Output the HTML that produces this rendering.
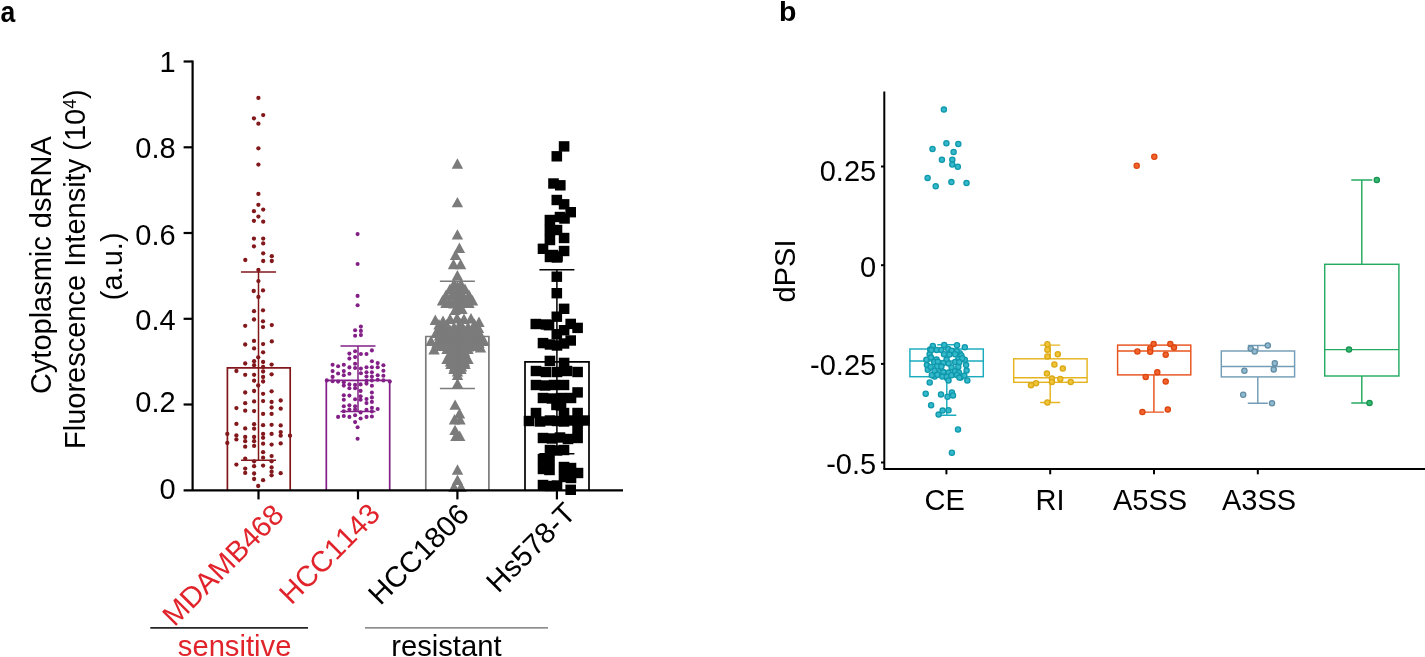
<!DOCTYPE html>
<html lang="en"><head><meta charset="utf-8"><title>Figure</title>
<style>html,body{margin:0;padding:0;background:#fff;}body{width:1425px;height:657px;overflow:hidden;font-family:"Liberation Sans", sans-serif;}svg{will-change:transform;}svg text{font-family:"Liberation Sans",sans-serif;font-kerning:none;}</style></head>
<body>
<svg width="1425" height="657" viewBox="0 0 1425 657" font-family='"Liberation Sans", sans-serif' style="display:block">
<rect x="0" y="0" width="1425" height="657" fill="#ffffff"/>
<text transform="translate(0.6 21.6) scale(0.9 1)" font-size="29.5" font-weight="bold" fill="#000">a</text>
<text x="779" y="21.4" font-size="28.5" font-weight="bold" fill="#000">b</text>
<g fill="none">
<path d="M227.4 490.3V367.9H290.2V490.3" stroke="#82181b" stroke-width="1.7"/>
<path d="M326.3 490.3V380.4H389.7V490.3" stroke="#832087" stroke-width="1.7"/>
<path d="M425.8 490.3V336.5H488.9V490.3" stroke="#7b7b7b" stroke-width="1.7"/>
<path d="M525.0 490.3V361.8H589.0V490.3" stroke="#000000" stroke-width="1.7"/>
</g>
<g fill="#82181b">
<circle cx="258.4" cy="97.9" r="2.15"/>
<circle cx="263.2" cy="115.1" r="2.15"/>
<circle cx="253.9" cy="118.3" r="2.15"/>
<circle cx="258.4" cy="123.7" r="2.15"/>
<circle cx="258.4" cy="148.3" r="2.15"/>
<circle cx="258.4" cy="164.6" r="2.15"/>
<circle cx="258.4" cy="193.9" r="2.15"/>
<circle cx="258.4" cy="204.8" r="2.15"/>
<circle cx="263.2" cy="209.6" r="2.15"/>
<circle cx="253.9" cy="211.2" r="2.15"/>
<circle cx="258.4" cy="216.6" r="2.15"/>
<circle cx="253.9" cy="220.8" r="2.15"/>
<circle cx="263.2" cy="221.7" r="2.15"/>
<circle cx="253.9" cy="238.6" r="2.15"/>
<circle cx="263.2" cy="238.6" r="2.15"/>
<circle cx="263.2" cy="243.4" r="2.15"/>
<circle cx="253.9" cy="246.3" r="2.15"/>
<circle cx="263.2" cy="253.3" r="2.15"/>
<circle cx="271.8" cy="256.2" r="2.15"/>
<circle cx="245.3" cy="260" r="2.15"/>
<circle cx="263.2" cy="261" r="2.15"/>
<circle cx="271.8" cy="261" r="2.15"/>
<circle cx="258.4" cy="269.9" r="2.15"/>
<circle cx="258.4" cy="281.1" r="2.15"/>
<circle cx="253.7" cy="291" r="2.15"/>
<circle cx="263" cy="290.4" r="2.15"/>
<circle cx="258.4" cy="296.9" r="2.15"/>
<circle cx="254" cy="311.2" r="2.15"/>
<circle cx="263" cy="310.3" r="2.15"/>
<circle cx="254" cy="319.5" r="2.15"/>
<circle cx="263" cy="321.3" r="2.15"/>
<circle cx="245.2" cy="325.8" r="2.15"/>
<circle cx="271.8" cy="325.1" r="2.15"/>
<circle cx="263" cy="327.1" r="2.15"/>
<circle cx="254" cy="340.9" r="2.15"/>
<circle cx="271.8" cy="341.4" r="2.15"/>
<circle cx="245.2" cy="344.5" r="2.15"/>
<circle cx="263.1" cy="344.1" r="2.15"/>
<circle cx="254.1" cy="348.4" r="2.15"/>
<circle cx="263.1" cy="352.3" r="2.15"/>
<circle cx="258.2" cy="357.3" r="2.15"/>
<circle cx="254.1" cy="361.2" r="2.15"/>
<circle cx="263.1" cy="362" r="2.15"/>
<circle cx="245.2" cy="363.5" r="2.15"/>
<circle cx="271.6" cy="364.6" r="2.15"/>
<circle cx="254.1" cy="365.2" r="2.15"/>
<circle cx="263.1" cy="366.9" r="2.15"/>
<circle cx="236.4" cy="371" r="2.15"/>
<circle cx="263.1" cy="371.5" r="2.15"/>
<circle cx="245.2" cy="374.8" r="2.15"/>
<circle cx="254.1" cy="374.8" r="2.15"/>
<circle cx="271.6" cy="374.3" r="2.15"/>
<circle cx="263.1" cy="377" r="2.15"/>
<circle cx="254.1" cy="380.7" r="2.15"/>
<circle cx="263.1" cy="381.5" r="2.15"/>
<circle cx="258.2" cy="385.5" r="2.15"/>
<circle cx="254.1" cy="391" r="2.15"/>
<circle cx="271.6" cy="391.3" r="2.15"/>
<circle cx="245.2" cy="392.5" r="2.15"/>
<circle cx="263.1" cy="393.8" r="2.15"/>
<circle cx="280.7" cy="400.5" r="2.15"/>
<circle cx="254.1" cy="401.4" r="2.15"/>
<circle cx="263.1" cy="401.1" r="2.15"/>
<circle cx="271.6" cy="402" r="2.15"/>
<circle cx="245.2" cy="403.2" r="2.15"/>
<circle cx="236.4" cy="408.1" r="2.15"/>
<circle cx="271.6" cy="407.5" r="2.15"/>
<circle cx="280.7" cy="408.7" r="2.15"/>
<circle cx="245.2" cy="410.7" r="2.15"/>
<circle cx="254.1" cy="411.1" r="2.15"/>
<circle cx="263.1" cy="413.9" r="2.15"/>
<circle cx="271.6" cy="413.9" r="2.15"/>
<circle cx="236.4" cy="423.9" r="2.15"/>
<circle cx="254.1" cy="424.2" r="2.15"/>
<circle cx="263.1" cy="425.2" r="2.15"/>
<circle cx="271.6" cy="424.8" r="2.15"/>
<circle cx="280.7" cy="425.4" r="2.15"/>
<circle cx="245.2" cy="428.4" r="2.15"/>
<circle cx="254.1" cy="428.7" r="2.15"/>
<circle cx="280.7" cy="432.1" r="2.15"/>
<circle cx="227.3" cy="433.9" r="2.15"/>
<circle cx="263.1" cy="433.9" r="2.15"/>
<circle cx="271.6" cy="433.9" r="2.15"/>
<circle cx="236.4" cy="435.4" r="2.15"/>
<circle cx="290" cy="435.7" r="2.15"/>
<circle cx="280.7" cy="435.7" r="2.15"/>
<circle cx="245.2" cy="437" r="2.15"/>
<circle cx="254.1" cy="437" r="2.15"/>
<circle cx="263.1" cy="437.8" r="2.15"/>
<circle cx="236.4" cy="439.4" r="2.15"/>
<circle cx="245.2" cy="441.2" r="2.15"/>
<circle cx="254.1" cy="441.2" r="2.15"/>
<circle cx="227.3" cy="443" r="2.15"/>
<circle cx="263.1" cy="443.7" r="2.15"/>
<circle cx="280.7" cy="443.4" r="2.15"/>
<circle cx="271.6" cy="444.6" r="2.15"/>
<circle cx="245.2" cy="446.7" r="2.15"/>
<circle cx="254.1" cy="445.9" r="2.15"/>
<circle cx="263.1" cy="452.2" r="2.15"/>
<circle cx="271.6" cy="456.1" r="2.15"/>
<circle cx="263.1" cy="457.7" r="2.15"/>
<circle cx="245.2" cy="458.6" r="2.15"/>
<circle cx="254.1" cy="461.3" r="2.15"/>
<circle cx="271.6" cy="461.3" r="2.15"/>
<circle cx="236.4" cy="464.6" r="2.15"/>
<circle cx="254.1" cy="466.2" r="2.15"/>
<circle cx="263.1" cy="465.6" r="2.15"/>
<circle cx="271.6" cy="467.4" r="2.15"/>
<circle cx="245.2" cy="468.6" r="2.15"/>
<circle cx="271.6" cy="471.7" r="2.15"/>
<circle cx="245.2" cy="472.9" r="2.15"/>
<circle cx="254.1" cy="473.5" r="2.15"/>
<circle cx="280.7" cy="473.2" r="2.15"/>
<circle cx="271.6" cy="475.3" r="2.15"/>
<circle cx="254.1" cy="479" r="2.15"/>
<circle cx="263.1" cy="480.2" r="2.15"/>
<circle cx="258.2" cy="486" r="2.15"/>
</g>
<g fill="#832087">
<circle cx="357.6" cy="234.1" r="2.05"/>
<circle cx="357.6" cy="264" r="2.05"/>
<circle cx="357.6" cy="295.9" r="2.05"/>
<circle cx="357.6" cy="305.2" r="2.05"/>
<circle cx="360.9" cy="326.6" r="2.05"/>
<circle cx="355.1" cy="330.3" r="2.05"/>
<circle cx="360.9" cy="330.9" r="2.05"/>
<circle cx="355.1" cy="335.7" r="2.05"/>
<circle cx="360.9" cy="335.1" r="2.05"/>
<circle cx="371.9" cy="350.4" r="2.05"/>
<circle cx="355.1" cy="351.2" r="2.05"/>
<circle cx="349.4" cy="353.6" r="2.05"/>
<circle cx="360.9" cy="354" r="2.05"/>
<circle cx="366.5" cy="354" r="2.05"/>
<circle cx="355.1" cy="357.1" r="2.05"/>
<circle cx="349.4" cy="358.6" r="2.05"/>
<circle cx="371.9" cy="361.3" r="2.05"/>
<circle cx="377.7" cy="363.1" r="2.05"/>
<circle cx="355.1" cy="363.8" r="2.05"/>
<circle cx="332.6" cy="364.7" r="2.05"/>
<circle cx="343.8" cy="364.7" r="2.05"/>
<circle cx="383.4" cy="365.3" r="2.05"/>
<circle cx="338.1" cy="366.2" r="2.05"/>
<circle cx="349.4" cy="367.4" r="2.05"/>
<circle cx="366.5" cy="367.2" r="2.05"/>
<circle cx="371.9" cy="367.2" r="2.05"/>
<circle cx="377.7" cy="367.2" r="2.05"/>
<circle cx="355.1" cy="368" r="2.05"/>
<circle cx="360.9" cy="368.6" r="2.05"/>
<circle cx="332.6" cy="371.1" r="2.05"/>
<circle cx="343.8" cy="371.1" r="2.05"/>
<circle cx="383.4" cy="370.7" r="2.05"/>
<circle cx="366.5" cy="372.3" r="2.05"/>
<circle cx="371.9" cy="372.3" r="2.05"/>
<circle cx="338.1" cy="373.5" r="2.05"/>
<circle cx="349.4" cy="373.7" r="2.05"/>
<circle cx="360.9" cy="373.2" r="2.05"/>
<circle cx="343.8" cy="375.3" r="2.05"/>
<circle cx="377.7" cy="375.3" r="2.05"/>
<circle cx="383.4" cy="375.7" r="2.05"/>
<circle cx="332.6" cy="376.9" r="2.05"/>
<circle cx="366.5" cy="376.5" r="2.05"/>
<circle cx="371.9" cy="376.5" r="2.05"/>
<circle cx="326.8" cy="380.4" r="2.05"/>
<circle cx="389.8" cy="381.6" r="2.05"/>
<circle cx="332.6" cy="381.2" r="2.05"/>
<circle cx="338.1" cy="381.6" r="2.05"/>
<circle cx="343.8" cy="382.2" r="2.05"/>
<circle cx="366.5" cy="380.7" r="2.05"/>
<circle cx="371.9" cy="380.4" r="2.05"/>
<circle cx="377.7" cy="379.7" r="2.05"/>
<circle cx="383.4" cy="380.4" r="2.05"/>
<circle cx="349.4" cy="384.4" r="2.05"/>
<circle cx="355.1" cy="384.9" r="2.05"/>
<circle cx="360.6" cy="384.4" r="2.05"/>
<circle cx="366.5" cy="383.6" r="2.05"/>
<circle cx="343.8" cy="385.6" r="2.05"/>
<circle cx="371.9" cy="385.8" r="2.05"/>
<circle cx="349.4" cy="388.3" r="2.05"/>
<circle cx="355.1" cy="388.3" r="2.05"/>
<circle cx="360.6" cy="390.9" r="2.05"/>
<circle cx="371.9" cy="392.5" r="2.05"/>
<circle cx="343.8" cy="395.3" r="2.05"/>
<circle cx="349.4" cy="395.6" r="2.05"/>
<circle cx="360.6" cy="396.2" r="2.05"/>
<circle cx="371.9" cy="397.4" r="2.05"/>
<circle cx="355.1" cy="399.2" r="2.05"/>
<circle cx="360.6" cy="399.8" r="2.05"/>
<circle cx="366.5" cy="399" r="2.05"/>
<circle cx="343.8" cy="399.8" r="2.05"/>
<circle cx="371.9" cy="401.9" r="2.05"/>
<circle cx="366.5" cy="403.1" r="2.05"/>
<circle cx="349.4" cy="405.3" r="2.05"/>
<circle cx="343.8" cy="406.3" r="2.05"/>
<circle cx="355.1" cy="406.3" r="2.05"/>
<circle cx="371.9" cy="407.7" r="2.05"/>
<circle cx="377.7" cy="409" r="2.05"/>
<circle cx="366.5" cy="409.9" r="2.05"/>
<circle cx="349.4" cy="409.6" r="2.05"/>
<circle cx="355.1" cy="409.6" r="2.05"/>
<circle cx="343.8" cy="411.2" r="2.05"/>
<circle cx="371.9" cy="411.4" r="2.05"/>
<circle cx="360.6" cy="412.4" r="2.05"/>
<circle cx="355.1" cy="415.3" r="2.05"/>
<circle cx="343.8" cy="416" r="2.05"/>
<circle cx="338.1" cy="416.9" r="2.05"/>
<circle cx="349.4" cy="416.9" r="2.05"/>
<circle cx="366.5" cy="416.9" r="2.05"/>
<circle cx="371.9" cy="416.5" r="2.05"/>
<circle cx="360.6" cy="418.5" r="2.05"/>
<circle cx="355.1" cy="422.1" r="2.05"/>
<circle cx="357.6" cy="427.2" r="2.05"/>
<circle cx="357.6" cy="438.8" r="2.05"/>
</g>
<g fill="#7b7b7b">
<path d="M457.4 158.3l5.7 10.4h-11.4z"/>
<path d="M457.4 196.9l5.7 10.4h-11.4z"/>
<path d="M457.4 229.2l5.7 10.4h-11.4z"/>
<path d="M459.4 242.5l5.7 10.4h-11.4z"/>
<path d="M455.5 249.7l5.7 10.4h-11.4z"/>
<path d="M453.5 258.8l5.7 10.4h-11.4z"/>
<path d="M460.6 258.8l5.7 10.4h-11.4z"/>
<path d="M457.4 270.0l5.7 10.4h-11.4z"/>
<path d="M454.0 278.5l5.7 10.4h-11.4z"/>
<path d="M461.0 278.5l5.7 10.4h-11.4z"/>
<path d="M450.0 283.5l5.7 10.4h-11.4z"/>
<path d="M457.5 284.5l5.7 10.4h-11.4z"/>
<path d="M465.0 283.5l5.7 10.4h-11.4z"/>
<path d="M446.0 289.5l5.7 10.4h-11.4z"/>
<path d="M453.0 289.5l5.7 10.4h-11.4z"/>
<path d="M461.0 290.5l5.7 10.4h-11.4z"/>
<path d="M469.0 289.5l5.7 10.4h-11.4z"/>
<path d="M442.5 295.0l5.7 10.4h-11.4z"/>
<path d="M450.0 295.5l5.7 10.4h-11.4z"/>
<path d="M457.5 295.5l5.7 10.4h-11.4z"/>
<path d="M465.0 294.5l5.7 10.4h-11.4z"/>
<path d="M472.5 295.0l5.7 10.4h-11.4z"/>
<path d="M455.0 304.5l5.7 10.4h-11.4z"/>
<path d="M462.0 303.5l5.7 10.4h-11.4z"/>
<path d="M435.3 314.5l5.7 10.4h-11.4z"/>
<path d="M443.0 315.5l5.7 10.4h-11.4z"/>
<path d="M450.0 313.5l5.7 10.4h-11.4z"/>
<path d="M457.0 312.5l5.7 10.4h-11.4z"/>
<path d="M464.0 313.5l5.7 10.4h-11.4z"/>
<path d="M471.0 313.0l5.7 10.4h-11.4z"/>
<path d="M479.0 316.5l5.7 10.4h-11.4z"/>
<path d="M440.0 322.5l5.7 10.4h-11.4z"/>
<path d="M447.0 322.5l5.7 10.4h-11.4z"/>
<path d="M454.0 321.5l5.7 10.4h-11.4z"/>
<path d="M461.0 322.5l5.7 10.4h-11.4z"/>
<path d="M468.0 321.5l5.7 10.4h-11.4z"/>
<path d="M475.0 322.5l5.7 10.4h-11.4z"/>
<path d="M436.0 327.5l5.7 10.4h-11.4z"/>
<path d="M443.0 327.5l5.7 10.4h-11.4z"/>
<path d="M450.0 328.5l5.7 10.4h-11.4z"/>
<path d="M457.5 327.5l5.7 10.4h-11.4z"/>
<path d="M465.0 328.5l5.7 10.4h-11.4z"/>
<path d="M472.0 327.5l5.7 10.4h-11.4z"/>
<path d="M479.0 327.5l5.7 10.4h-11.4z"/>
<path d="M440.0 332.5l5.7 10.4h-11.4z"/>
<path d="M447.0 333.5l5.7 10.4h-11.4z"/>
<path d="M454.0 332.5l5.7 10.4h-11.4z"/>
<path d="M461.0 333.5l5.7 10.4h-11.4z"/>
<path d="M468.0 332.5l5.7 10.4h-11.4z"/>
<path d="M475.0 333.5l5.7 10.4h-11.4z"/>
<path d="M482.0 332.5l5.7 10.4h-11.4z"/>
<path d="M437.0 337.5l5.7 10.4h-11.4z"/>
<path d="M444.0 337.5l5.7 10.4h-11.4z"/>
<path d="M451.0 338.5l5.7 10.4h-11.4z"/>
<path d="M458.0 337.5l5.7 10.4h-11.4z"/>
<path d="M465.0 338.5l5.7 10.4h-11.4z"/>
<path d="M472.0 337.5l5.7 10.4h-11.4z"/>
<path d="M479.0 337.5l5.7 10.4h-11.4z"/>
<path d="M431.0 335.5l5.7 10.4h-11.4z"/>
<path d="M434.0 344.0l5.7 10.4h-11.4z"/>
<path d="M484.0 335.5l5.7 10.4h-11.4z"/>
<path d="M480.5 342.0l5.7 10.4h-11.4z"/>
<path d="M447.0 343.5l5.7 10.4h-11.4z"/>
<path d="M454.0 343.5l5.7 10.4h-11.4z"/>
<path d="M461.0 343.5l5.7 10.4h-11.4z"/>
<path d="M468.0 343.5l5.7 10.4h-11.4z"/>
<path d="M450.0 348.5l5.7 10.4h-11.4z"/>
<path d="M457.5 348.5l5.7 10.4h-11.4z"/>
<path d="M465.0 348.5l5.7 10.4h-11.4z"/>
<path d="M447.0 353.5l5.7 10.4h-11.4z"/>
<path d="M454.0 353.5l5.7 10.4h-11.4z"/>
<path d="M461.0 353.5l5.7 10.4h-11.4z"/>
<path d="M468.0 353.5l5.7 10.4h-11.4z"/>
<path d="M451.0 358.5l5.7 10.4h-11.4z"/>
<path d="M458.0 358.5l5.7 10.4h-11.4z"/>
<path d="M465.0 358.5l5.7 10.4h-11.4z"/>
<path d="M454.0 363.5l5.7 10.4h-11.4z"/>
<path d="M461.0 363.5l5.7 10.4h-11.4z"/>
<path d="M457.5 369.5l5.7 10.4h-11.4z"/>
<path d="M457.5 378.2l5.7 10.4h-11.4z"/>
<path d="M455.1 399.4l5.7 10.4h-11.4z"/>
<path d="M459.5 408.0l5.7 10.4h-11.4z"/>
<path d="M454.5 414.0l5.7 10.4h-11.4z"/>
<path d="M460.0 414.0l5.7 10.4h-11.4z"/>
<path d="M455.0 424.7l5.7 10.4h-11.4z"/>
<path d="M455.9 430.7l5.7 10.4h-11.4z"/>
<path d="M459.7 430.5l5.7 10.4h-11.4z"/>
<path d="M457.5 464.3l5.7 10.4h-11.4z"/>
<path d="M457.5 474.5l5.7 10.4h-11.4z"/>
<path d="M454.0 481.5l5.7 10.4h-11.4z"/>
<path d="M461.0 481.5l5.7 10.4h-11.4z"/>
<path d="M457.5 281.0l5.7 10.4h-11.4z"/>
<path d="M453.5 286.5l5.7 10.4h-11.4z"/>
<path d="M461.5 287.0l5.7 10.4h-11.4z"/>
<path d="M457.5 292.5l5.7 10.4h-11.4z"/>
<path d="M446.0 297.5l5.7 10.4h-11.4z"/>
<path d="M454.0 298.0l5.7 10.4h-11.4z"/>
<path d="M461.5 297.5l5.7 10.4h-11.4z"/>
<path d="M469.0 297.5l5.7 10.4h-11.4z"/>
<path d="M458.5 300.5l5.7 10.4h-11.4z"/>
<path d="M439.0 319.0l5.7 10.4h-11.4z"/>
<path d="M446.5 319.0l5.7 10.4h-11.4z"/>
<path d="M460.5 318.0l5.7 10.4h-11.4z"/>
<path d="M474.5 318.5l5.7 10.4h-11.4z"/>
<path d="M450.5 325.0l5.7 10.4h-11.4z"/>
<path d="M457.5 324.5l5.7 10.4h-11.4z"/>
<path d="M464.5 325.0l5.7 10.4h-11.4z"/>
<path d="M478.5 322.5l5.7 10.4h-11.4z"/>
<path d="M439.5 330.0l5.7 10.4h-11.4z"/>
<path d="M446.5 330.5l5.7 10.4h-11.4z"/>
<path d="M461.0 330.5l5.7 10.4h-11.4z"/>
<path d="M468.5 330.5l5.7 10.4h-11.4z"/>
<path d="M475.5 330.5l5.7 10.4h-11.4z"/>
<path d="M443.5 335.5l5.7 10.4h-11.4z"/>
<path d="M450.5 335.5l5.7 10.4h-11.4z"/>
<path d="M457.5 335.0l5.7 10.4h-11.4z"/>
<path d="M464.5 335.5l5.7 10.4h-11.4z"/>
<path d="M471.5 335.5l5.7 10.4h-11.4z"/>
<path d="M478.5 335.0l5.7 10.4h-11.4z"/>
<path d="M440.5 340.5l5.7 10.4h-11.4z"/>
<path d="M447.5 340.5l5.7 10.4h-11.4z"/>
<path d="M454.5 341.0l5.7 10.4h-11.4z"/>
<path d="M461.5 340.5l5.7 10.4h-11.4z"/>
<path d="M468.5 341.0l5.7 10.4h-11.4z"/>
<path d="M475.5 340.5l5.7 10.4h-11.4z"/>
<path d="M457.5 346.0l5.7 10.4h-11.4z"/>
<path d="M464.5 346.0l5.7 10.4h-11.4z"/>
<path d="M453.5 351.0l5.7 10.4h-11.4z"/>
<path d="M450.5 356.0l5.7 10.4h-11.4z"/>
<path d="M457.5 356.0l5.7 10.4h-11.4z"/>
<path d="M464.5 356.0l5.7 10.4h-11.4z"/>
<path d="M454.5 361.0l5.7 10.4h-11.4z"/>
<path d="M461.5 361.0l5.7 10.4h-11.4z"/>
<path d="M457.5 366.0l5.7 10.4h-11.4z"/>
</g>
<g fill="#000000">
<rect x="558.8" y="141.2" width="10.6" height="10.4"/>
<rect x="551.5" y="151.1" width="10.6" height="10.4"/>
<rect x="548.2" y="178.3" width="10.6" height="10.4"/>
<rect x="555.0" y="180.1" width="10.6" height="10.4"/>
<rect x="551.5" y="194.8" width="10.6" height="10.4"/>
<rect x="558.8" y="199.1" width="10.6" height="10.4"/>
<rect x="565.4" y="207.0" width="10.6" height="10.4"/>
<rect x="554.7" y="211.8" width="10.6" height="10.4"/>
<rect x="559.2" y="213.3" width="10.6" height="10.4"/>
<rect x="544.6" y="214.8" width="10.6" height="10.4"/>
<rect x="544.6" y="224.8" width="10.6" height="10.4"/>
<rect x="544.6" y="234.8" width="10.6" height="10.4"/>
<rect x="551.7" y="224.8" width="10.6" height="10.4"/>
<rect x="558.8" y="232.8" width="10.6" height="10.4"/>
<rect x="537.7" y="243.6" width="10.6" height="10.4"/>
<rect x="558.8" y="245.8" width="10.6" height="10.4"/>
<rect x="547.7" y="249.8" width="10.6" height="10.4"/>
<rect x="552.2" y="251.3" width="10.6" height="10.4"/>
<rect x="544.7" y="251.8" width="10.6" height="10.4"/>
<rect x="551.7" y="252.3" width="10.6" height="10.4"/>
<rect x="551.5" y="271.5" width="10.6" height="10.4"/>
<rect x="551.5" y="288.0" width="10.6" height="10.4"/>
<rect x="558.8" y="303.6" width="10.6" height="10.4"/>
<rect x="551.5" y="311.5" width="10.6" height="10.4"/>
<rect x="530.5" y="318.8" width="10.6" height="10.4"/>
<rect x="540.7" y="319.3" width="10.6" height="10.4"/>
<rect x="543.7" y="320.0" width="10.6" height="10.4"/>
<rect x="565.4" y="318.7" width="10.6" height="10.4"/>
<rect x="572.3" y="322.7" width="10.6" height="10.4"/>
<rect x="558.8" y="325.0" width="10.6" height="10.4"/>
<rect x="551.5" y="329.0" width="10.6" height="10.4"/>
<rect x="565.4" y="335.3" width="10.6" height="10.4"/>
<rect x="537.7" y="337.9" width="10.6" height="10.4"/>
<rect x="544.7" y="339.3" width="10.6" height="10.4"/>
<rect x="551.7" y="340.3" width="10.6" height="10.4"/>
<rect x="558.7" y="338.3" width="10.6" height="10.4"/>
<rect x="544.6" y="355.7" width="10.6" height="10.4"/>
<rect x="558.8" y="357.7" width="10.6" height="10.4"/>
<rect x="530.7" y="365.8" width="10.6" height="10.4"/>
<rect x="540.7" y="366.8" width="10.6" height="10.4"/>
<rect x="551.7" y="366.8" width="10.6" height="10.4"/>
<rect x="561.7" y="365.8" width="10.6" height="10.4"/>
<rect x="572.3" y="366.8" width="10.6" height="10.4"/>
<rect x="530.7" y="379.8" width="10.6" height="10.4"/>
<rect x="539.7" y="380.3" width="10.6" height="10.4"/>
<rect x="548.7" y="379.8" width="10.6" height="10.4"/>
<rect x="558.7" y="379.8" width="10.6" height="10.4"/>
<rect x="572.3" y="387.2" width="10.6" height="10.4"/>
<rect x="537.7" y="392.8" width="10.6" height="10.4"/>
<rect x="546.7" y="393.3" width="10.6" height="10.4"/>
<rect x="555.7" y="392.8" width="10.6" height="10.4"/>
<rect x="565.7" y="392.8" width="10.6" height="10.4"/>
<rect x="551.2" y="399.8" width="10.6" height="10.4"/>
<rect x="555.7" y="400.3" width="10.6" height="10.4"/>
<rect x="530.7" y="407.8" width="10.6" height="10.4"/>
<rect x="558.7" y="407.8" width="10.6" height="10.4"/>
<rect x="572.3" y="407.8" width="10.6" height="10.4"/>
<rect x="523.7" y="415.8" width="10.6" height="10.4"/>
<rect x="534.7" y="416.3" width="10.6" height="10.4"/>
<rect x="544.7" y="415.3" width="10.6" height="10.4"/>
<rect x="551.7" y="415.8" width="10.6" height="10.4"/>
<rect x="558.7" y="416.3" width="10.6" height="10.4"/>
<rect x="565.7" y="415.3" width="10.6" height="10.4"/>
<rect x="572.7" y="415.8" width="10.6" height="10.4"/>
<rect x="579.2" y="415.3" width="10.6" height="10.4"/>
<rect x="572.3" y="422.8" width="10.6" height="10.4"/>
<rect x="537.7" y="432.8" width="10.6" height="10.4"/>
<rect x="546.7" y="433.3" width="10.6" height="10.4"/>
<rect x="554.7" y="432.3" width="10.6" height="10.4"/>
<rect x="562.7" y="433.8" width="10.6" height="10.4"/>
<rect x="572.3" y="432.8" width="10.6" height="10.4"/>
<rect x="544.7" y="444.8" width="10.6" height="10.4"/>
<rect x="551.7" y="445.3" width="10.6" height="10.4"/>
<rect x="558.7" y="444.8" width="10.6" height="10.4"/>
<rect x="537.7" y="453.8" width="10.6" height="10.4"/>
<rect x="544.2" y="454.8" width="10.6" height="10.4"/>
<rect x="537.7" y="463.8" width="10.6" height="10.4"/>
<rect x="544.2" y="464.8" width="10.6" height="10.4"/>
<rect x="558.7" y="461.8" width="10.6" height="10.4"/>
<rect x="565.7" y="462.8" width="10.6" height="10.4"/>
<rect x="558.7" y="471.8" width="10.6" height="10.4"/>
<rect x="565.7" y="472.8" width="10.6" height="10.4"/>
<rect x="572.7" y="467.8" width="10.6" height="10.4"/>
<rect x="537.7" y="479.8" width="10.6" height="10.4"/>
<rect x="544.7" y="480.8" width="10.6" height="10.4"/>
<rect x="551.7" y="480.3" width="10.6" height="10.4"/>
<rect x="565.4" y="484.6" width="10.6" height="10.4"/>
</g>
<g fill="none" stroke-width="1.5">
<path d="M258.5 272.0V460.3M241.0 272.0H276.0M241.0 460.3H276.0" stroke="#82181b"/>
<path d="M358.0 346.0V411.6M340.5 346.0H375.5M340.5 411.6H375.5" stroke="#832087"/>
<path d="M457.4 281.2V388.4M439.9 281.2H474.9M439.9 388.4H474.9" stroke="#7b7b7b"/>
<path d="M556.9 269.8V453.8M539.4 269.8H574.4M539.4 453.8H574.4" stroke="#000000"/>
</g>
<g stroke="#000" stroke-width="2.2" fill="none">
<path d="M192.6 60.4V490.3"/>
<path d="M183.6 490.3H623"/>
<path d="M183.6 404.5H192.6"/>
<path d="M183.6 318.8H192.6"/>
<path d="M183.6 233.0H192.6"/>
<path d="M183.6 147.3H192.6"/>
<path d="M183.6 61.5H192.6"/>
<path d="M258.5 490.3V499.4"/>
<path d="M358.0 490.3V499.4"/>
<path d="M457.4 490.3V499.4"/>
<path d="M556.9 490.3V499.4"/>
</g>
<g font-size="29" fill="#000" text-anchor="end">
<text x="175.7" y="498.7">0</text>
<text x="175.7" y="412.1">0.2</text>
<text x="175.7" y="329.9">0.4</text>
<text x="175.7" y="244.6">0.6</text>
<text x="175.7" y="157.9">0.8</text>
<text x="175.7" y="72.1">1</text>
</g>
<g font-size="29" fill="#000" text-anchor="middle">
<text transform="translate(50.5 265.2) rotate(-90)">Cytoplasmic dsRNA</text>
<text transform="translate(85.3 269.2) rotate(-90)">Fluorescence Intensity (10<tspan font-size="17.5" dy="-9.8">4</tspan><tspan dy="9.8">)</tspan></text>
<text transform="translate(121.5 266.3) rotate(-90)">(a.u.)</text>
</g>
<g font-size="29.1" text-anchor="end">
<text transform="translate(285.5 516.5) rotate(-45)" fill="#e1232b">MDAMB468</text>
<text transform="translate(381.7 515.5) rotate(-45)" fill="#e1232b">HCC1143</text>
<text transform="translate(470.7 516) rotate(-45)" fill="#000">HCC1806</text>
<text transform="translate(577.2 515) rotate(-45)" fill="#000">Hs578-T</text>
</g>
<g fill="none">
<path d="M150.3 627.9H308" stroke="#262626" stroke-width="1.6"/>
<path d="M365 627.9H548" stroke="#666" stroke-width="1.3"/>
</g>
<text x="234.6" y="656.1" font-size="29.2" text-anchor="middle" fill="#e1232b">sensitive</text>
<text x="446.4" y="656.1" font-size="29.2" text-anchor="middle" fill="#000">resistant</text>
<g stroke="#000" stroke-width="2.0" fill="none">
<path d="M884.3 91.5V469.1"/>
<path d="M883.4 469.1H1425"/>
<path d="M881.0 166.5H884.3"/>
<path d="M881.0 265.2H884.3"/>
<path d="M881.0 363.9H884.3"/>
<path d="M881.0 462.5H884.3"/>
<path d="M946.4 469.1V474.3"/>
<path d="M1050.2 469.1V474.3"/>
<path d="M1154.0 469.1V474.3"/>
<path d="M1257.8 469.1V474.3"/>
</g>
<g font-size="29" fill="#000" text-anchor="end">
<text x="876.2" y="181.3">0.25</text>
<text x="876.2" y="276.6">0</text>
<text x="876.2" y="375.3">-0.25</text>
<text x="876.2" y="474.0">-0.5</text>
</g>
<text transform="translate(794.7 271.0) rotate(-90)" font-size="29" text-anchor="middle" fill="#000">dPSI</text>
<g font-size="29" fill="#000" text-anchor="middle">
<text x="944.6" y="509.8">CE</text>
<text x="1050.0" y="509.8">RI</text>
<text x="1150.0" y="509.8">A5SS</text>
<text x="1259.0" y="509.8">A3SS</text>
</g>
<g fill="none" stroke="#1aabbd" stroke-width="1.45"><rect x="909.9" y="349.0" width="73.4" height="27.7"/><path d="M909.9 361.0H983.3"/><path d="M946.8 349.0V344.8M937.3 344.8H956.3"/><path d="M946.8 376.7V415.3M937.3 415.3H956.3"/></g>
<g fill="#33b9c9" stroke="#1098ac" stroke-width="1.3">
<circle cx="943.9" cy="109.6" r="2.6"/>
<circle cx="946.4" cy="143.3" r="2.6"/>
<circle cx="958.3" cy="143.9" r="2.6"/>
<circle cx="932.5" cy="149.0" r="2.6"/>
<circle cx="953.6" cy="152.0" r="2.6"/>
<circle cx="941.9" cy="159.7" r="2.6"/>
<circle cx="952.3" cy="159.7" r="2.6"/>
<circle cx="952.3" cy="164.5" r="2.6"/>
<circle cx="957.8" cy="166.7" r="2.6"/>
<circle cx="927.6" cy="177.9" r="2.6"/>
<circle cx="951.4" cy="182.1" r="2.6"/>
<circle cx="966.5" cy="183.0" r="2.6"/>
<circle cx="935.7" cy="186.3" r="2.6"/>
<circle cx="932.8" cy="346.0" r="2.6"/>
<circle cx="944.2" cy="345.0" r="2.6"/>
<circle cx="957.0" cy="345.2" r="2.6"/>
<circle cx="964.8" cy="347.3" r="2.6"/>
<circle cx="926.4" cy="359.7" r="2.6"/>
<circle cx="926.9" cy="365.1" r="2.6"/>
<circle cx="927.8" cy="369.7" r="2.6"/>
<circle cx="930.1" cy="349.6" r="2.6"/>
<circle cx="929.6" cy="354.2" r="2.6"/>
<circle cx="964.8" cy="359.7" r="2.6"/>
<circle cx="966.1" cy="365.1" r="2.6"/>
<circle cx="966.6" cy="370.6" r="2.6"/>
<circle cx="959.7" cy="353.3" r="2.6"/>
<circle cx="934.6" cy="376.6" r="2.6"/>
<circle cx="947.0" cy="377.9" r="2.6"/>
<circle cx="960.7" cy="377.5" r="2.6"/>
<circle cx="964.3" cy="375.6" r="2.6"/>
<circle cx="931.4" cy="350.1" r="2.6"/>
<circle cx="936.7" cy="350.0" r="2.6"/>
<circle cx="941.3" cy="350.0" r="2.6"/>
<circle cx="948.2" cy="349.0" r="2.6"/>
<circle cx="951.6" cy="350.7" r="2.6"/>
<circle cx="956.8" cy="351.2" r="2.6"/>
<circle cx="944.0" cy="354.2" r="2.6"/>
<circle cx="949.4" cy="354.6" r="2.6"/>
<circle cx="955.1" cy="354.2" r="2.6"/>
<circle cx="961.3" cy="355.5" r="2.6"/>
<circle cx="931.0" cy="357.6" r="2.6"/>
<circle cx="936.5" cy="359.4" r="2.6"/>
<circle cx="946.6" cy="359.6" r="2.6"/>
<circle cx="958.3" cy="359.3" r="2.6"/>
<circle cx="962.2" cy="358.2" r="2.6"/>
<circle cx="934.2" cy="362.0" r="2.6"/>
<circle cx="937.8" cy="361.8" r="2.6"/>
<circle cx="943.3" cy="363.0" r="2.6"/>
<circle cx="948.6" cy="363.5" r="2.6"/>
<circle cx="955.1" cy="362.0" r="2.6"/>
<circle cx="959.3" cy="362.3" r="2.6"/>
<circle cx="930.7" cy="366.9" r="2.6"/>
<circle cx="937.2" cy="366.2" r="2.6"/>
<circle cx="941.4" cy="366.6" r="2.6"/>
<circle cx="951.6" cy="367.4" r="2.6"/>
<circle cx="958.3" cy="366.9" r="2.6"/>
<circle cx="934.5" cy="370.7" r="2.6"/>
<circle cx="939.9" cy="372.3" r="2.6"/>
<circle cx="943.3" cy="372.1" r="2.6"/>
<circle cx="948.6" cy="372.6" r="2.6"/>
<circle cx="955.0" cy="371.3" r="2.6"/>
<circle cx="958.8" cy="372.6" r="2.6"/>
<circle cx="931.8" cy="375.3" r="2.6"/>
<circle cx="937.4" cy="374.8" r="2.6"/>
<circle cx="942.3" cy="376.6" r="2.6"/>
<circle cx="946.8" cy="376.8" r="2.6"/>
<circle cx="951.4" cy="375.2" r="2.6"/>
<circle cx="956.9" cy="375.0" r="2.6"/>
<circle cx="925.7" cy="393.8" r="2.6"/>
<circle cx="941.0" cy="394.4" r="2.6"/>
<circle cx="951.9" cy="392.4" r="2.6"/>
<circle cx="947.5" cy="396.8" r="2.6"/>
<circle cx="953.0" cy="395.4" r="2.6"/>
<circle cx="931.1" cy="405.3" r="2.6"/>
<circle cx="942.6" cy="410.6" r="2.6"/>
<circle cx="948.5" cy="410.2" r="2.6"/>
<circle cx="938.6" cy="414.6" r="2.6"/>
<circle cx="958.0" cy="429.5" r="2.6"/>
<circle cx="951.9" cy="452.8" r="2.6"/>
<circle cx="929.7" cy="382.5" r="2.6"/>
<circle cx="967.3" cy="380.5" r="2.6"/>
<circle cx="948.5" cy="380.5" r="2.6"/>
<circle cx="959.4" cy="377.6" r="2.6"/>
</g>
<g fill="none" stroke="#e6b41f" stroke-width="1.45"><rect x="1013.7" y="358.8" width="73.4" height="23.5"/><path d="M1013.7 377.8H1087.1"/><path d="M1050.2 358.8V345.1M1040.2 345.1H1060.2"/><path d="M1050.2 382.3V402.4M1040.2 402.4H1060.2"/></g>
<g fill="#efc437" stroke="#dba816" stroke-width="1.3">
<circle cx="1047.4" cy="344.3" r="2.6"/>
<circle cx="1047.4" cy="349.8" r="2.6"/>
<circle cx="1057.8" cy="354.3" r="2.6"/>
<circle cx="1047.4" cy="356.5" r="2.6"/>
<circle cx="1054.4" cy="364.4" r="2.6"/>
<circle cx="1062.8" cy="368.6" r="2.6"/>
<circle cx="1046.9" cy="373.6" r="2.6"/>
<circle cx="1051.9" cy="378.6" r="2.6"/>
<circle cx="1060.3" cy="378.9" r="2.6"/>
<circle cx="1070.7" cy="381.9" r="2.6"/>
<circle cx="1051.9" cy="381.9" r="2.6"/>
<circle cx="1036.0" cy="383.3" r="2.6"/>
<circle cx="1031.0" cy="385.3" r="2.6"/>
<circle cx="1047.4" cy="402.4" r="2.6"/>
</g>
<g fill="none" stroke="#e9531d" stroke-width="1.45"><rect x="1117.6" y="345.1" width="73.2" height="29.8"/><path d="M1117.6 351.0H1190.8"/><path d="M1153.9 374.9V412.1M1143.9 412.1H1163.9"/></g>
<g fill="#f2642c" stroke="#dc4611" stroke-width="1.3">
<circle cx="1153.6" cy="343.9" r="2.6"/>
<circle cx="1170.3" cy="343.9" r="2.6"/>
<circle cx="1174.0" cy="347.6" r="2.6"/>
<circle cx="1150.2" cy="348.5" r="2.6"/>
<circle cx="1137.4" cy="351.5" r="2.6"/>
<circle cx="1150.2" cy="351.8" r="2.6"/>
<circle cx="1165.7" cy="354.8" r="2.6"/>
<circle cx="1157.3" cy="372.2" r="2.6"/>
<circle cx="1145.7" cy="376.9" r="2.6"/>
<circle cx="1165.7" cy="381.6" r="2.6"/>
<circle cx="1167.8" cy="409.6" r="2.6"/>
<circle cx="1142.4" cy="412.1" r="2.6"/>
<circle cx="1136.7" cy="165.7" r="2.6"/>
<circle cx="1154.3" cy="156.7" r="2.6"/>
</g>
<g fill="none" stroke="#739db6" stroke-width="1.45"><rect x="1221.3" y="351.0" width="73.3" height="25.9"/><path d="M1221.3 366.4H1294.6"/><path d="M1257.8 351.0V345.4M1247.8 345.4H1267.8"/><path d="M1257.8 376.9V403.2M1247.8 403.2H1267.8"/></g>
<g fill="#90bacf" stroke="#628da4" stroke-width="1.3">
<circle cx="1267.8" cy="345.4" r="2.6"/>
<circle cx="1250.7" cy="348.5" r="2.6"/>
<circle cx="1254.7" cy="351.5" r="2.6"/>
<circle cx="1274.8" cy="363.2" r="2.6"/>
<circle cx="1273.7" cy="369.4" r="2.6"/>
<circle cx="1244.4" cy="370.7" r="2.6"/>
<circle cx="1243.2" cy="394.8" r="2.6"/>
<circle cx="1272.0" cy="403.2" r="2.6"/>
</g>
<g fill="none" stroke="#25ab62" stroke-width="1.45"><rect x="1324.7" y="264.3" width="74.2" height="111.7"/><path d="M1324.7 349.6H1398.9"/><path d="M1361.8 264.3V179.9M1351.3 179.9H1372.3"/><path d="M1361.8 376.0V402.9M1351.3 402.9H1372.3"/></g>
<g fill="#34ba72" stroke="#19934f" stroke-width="1.3">
<circle cx="1376.8" cy="179.9" r="2.6"/>
<circle cx="1349.0" cy="349.6" r="2.6"/>
<circle cx="1369.5" cy="402.9" r="2.6"/>
</g>
</svg>
</body></html>
